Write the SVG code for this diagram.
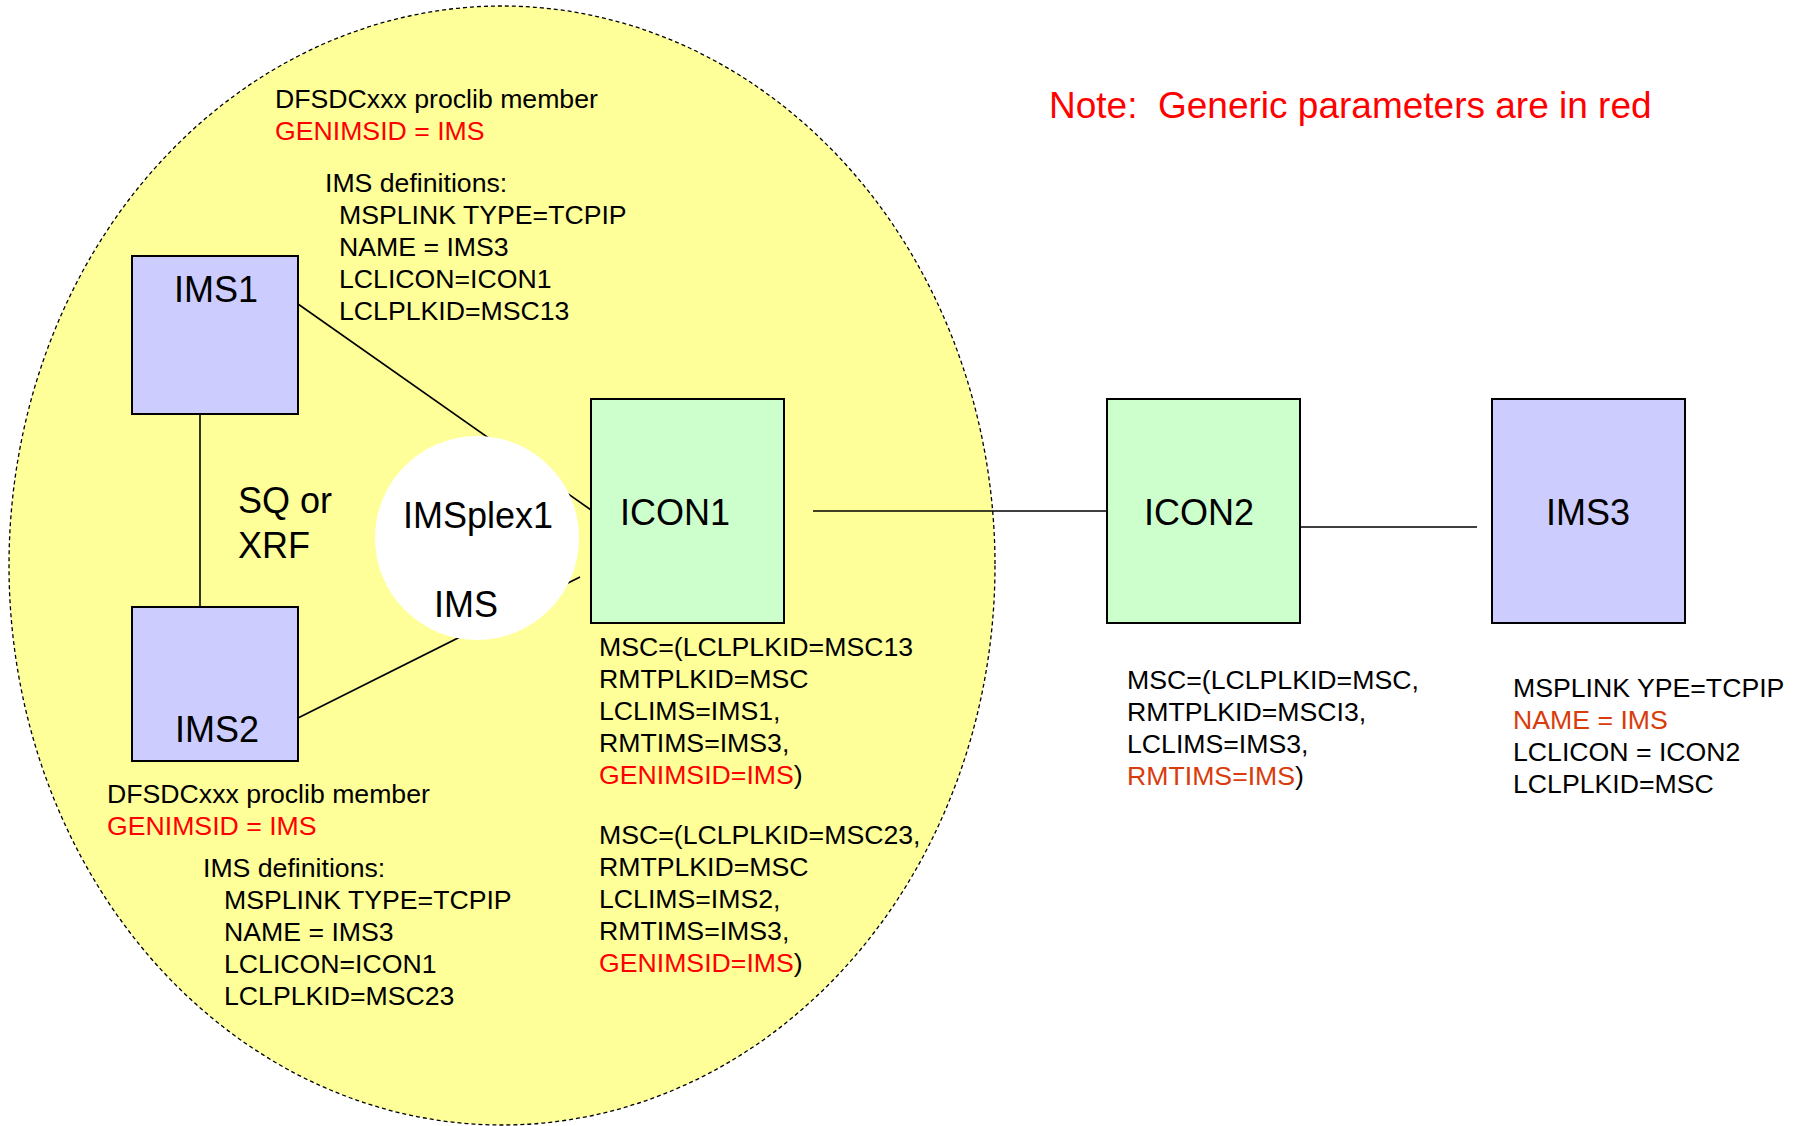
<svg xmlns="http://www.w3.org/2000/svg" width="1795" height="1126" viewBox="0 0 1795 1126">
<style>
text{font-family:"Liberation Sans",Arial,sans-serif;fill:#000}
.lbl{font-size:36px}
.t{font-size:26.67px}
.red{fill:#FF0000}
.ored{fill:#D93C0C}
.ims{fill:#CCCCFF;stroke:#000;stroke-width:2}
.icon{fill:#CCFFCC;stroke:#000;stroke-width:2}
.conn{stroke:#000;stroke-width:1.6;fill:none}
</style>
<rect width="1795" height="1126" fill="#FFFFFF"/>
<g id="imsplex-area">
<ellipse cx="502" cy="565.5" rx="493" ry="559.5" fill="#FFFF99" stroke="#000" stroke-width="1.3" stroke-dasharray="4 3"/>
</g>
<g id="connectors">
<line class="conn" x1="200" y1="415" x2="200" y2="608"/>
<line class="conn" x1="298" y1="304" x2="591" y2="510"/>
<line class="conn" x1="298" y1="718" x2="580" y2="577"/>
<line class="conn" x1="813" y1="511" x2="1107" y2="511"/>
<line class="conn" x1="1300" y1="527" x2="1477" y2="527"/>
</g>
<g id="imsplex1">
<circle cx="477" cy="538" r="102" fill="#FFFFFF"/>
<text class="lbl" x="478" y="528" text-anchor="middle">IMSplex1</text>
<text class="lbl" x="466" y="617" text-anchor="middle">IMS</text>
</g>
<g id="ims1">
<rect class="ims" x="132" y="256" width="166" height="158"/>
<text class="lbl" x="216" y="302" text-anchor="middle">IMS1</text>
</g>
<g id="ims2">
<rect class="ims" x="132" y="607" width="166" height="154"/>
<text class="lbl" x="217" y="742" text-anchor="middle">IMS2</text>
</g>
<g id="icon1">
<rect class="icon" x="591" y="399" width="193" height="224"/>
<text class="lbl" x="620" y="525">ICON1</text>
</g>
<g id="icon2">
<rect class="icon" x="1107" y="399" width="193" height="224"/>
<text class="lbl" x="1144" y="525">ICON2</text>
</g>
<g id="ims3">
<rect class="ims" x="1492" y="399" width="193" height="224"/>
<text class="lbl" x="1588" y="525" text-anchor="middle">IMS3</text>
</g>
<g id="sq-xrf">
<text class="lbl" x="238" y="513">SQ or</text>
<text class="lbl" x="238" y="558">XRF</text>
</g>
<g id="note">
<text x="1049" y="118" font-size="37" class="red" style="white-space:pre" xml:space="preserve">Note:  Generic parameters are in red</text>
</g>
<g id="ims1-defs">
<text class="t" x="275" y="108">DFSDCxxx proclib member</text>
<text class="t red" x="275" y="140">GENIMSID = IMS</text>
<text class="t" x="325" y="192">IMS definitions:</text>
<text class="t" x="339" y="224">MSPLINK TYPE=TCPIP</text>
<text class="t" x="339" y="256">NAME = IMS3</text>
<text class="t" x="339" y="288">LCLICON=ICON1</text>
<text class="t" x="339" y="320">LCLPLKID=MSC13</text>
</g>
<g id="ims2-defs">
<text class="t" x="107" y="803">DFSDCxxx proclib member</text>
<text class="t red" x="107" y="835">GENIMSID = IMS</text>
<text class="t" x="203" y="877">IMS definitions:</text>
<text class="t" x="224" y="909">MSPLINK TYPE=TCPIP</text>
<text class="t" x="224" y="941">NAME = IMS3</text>
<text class="t" x="224" y="973">LCLICON=ICON1</text>
<text class="t" x="224" y="1005">LCLPLKID=MSC23</text>
</g>
<g id="icon1-defs">
<text class="t" x="599" y="656">MSC=(LCLPLKID=MSC13</text>
<text class="t" x="599" y="688">RMTPLKID=MSC</text>
<text class="t" x="599" y="720">LCLIMS=IMS1,</text>
<text class="t" x="599" y="752">RMTIMS=IMS3,</text>
<text class="t" x="599" y="784"><tspan class="red">GENIMSID=IMS</tspan>)</text>
<text class="t" x="599" y="844">MSC=(LCLPLKID=MSC23,</text>
<text class="t" x="599" y="876">RMTPLKID=MSC</text>
<text class="t" x="599" y="908">LCLIMS=IMS2,</text>
<text class="t" x="599" y="940">RMTIMS=IMS3,</text>
<text class="t" x="599" y="972"><tspan class="red">GENIMSID=IMS</tspan>)</text>
</g>
<g id="icon2-defs">
<text class="t" x="1127" y="689">MSC=(LCLPLKID=MSC,</text>
<text class="t" x="1127" y="721">RMTPLKID=MSCI3,</text>
<text class="t" x="1127" y="753">LCLIMS=IMS3,</text>
<text class="t" x="1127" y="785"><tspan class="ored">RMTIMS=IMS</tspan>)</text>
</g>
<g id="ims3-defs">
<text class="t" x="1513" y="697">MSPLINK YPE=TCPIP</text>
<text class="t ored" x="1513" y="729">NAME = IMS</text>
<text class="t" x="1513" y="761">LCLICON = ICON2</text>
<text class="t" x="1513" y="793">LCLPLKID=MSC</text>
</g>
</svg>
